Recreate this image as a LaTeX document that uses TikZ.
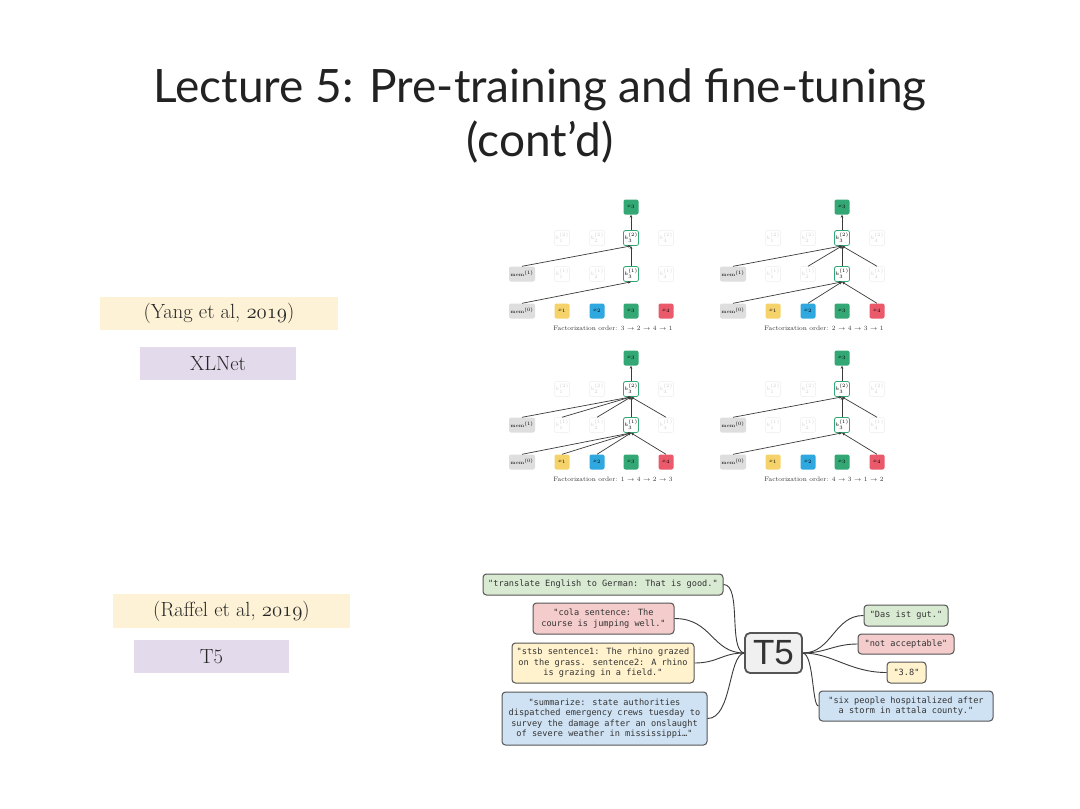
\documentclass[tikz,border=0pt]{standalone}
\usepackage{fontspec}
\newfontfamily\titlefont{Lato}
\newfontfamily\monofont{DejaVu Sans Mono}
\newfontfamily\tfivefont{Liberation Sans}
\usetikzlibrary{arrows.meta}
\definecolor{xyel}{HTML}{F6D36A}
\definecolor{xblu}{HTML}{2FA8DF}
\definecolor{xgrn}{HTML}{33A874}
\definecolor{xred}{HTML}{EA5A6A}
\definecolor{memg}{HTML}{DEDEDE}
\definecolor{lineg}{HTML}{3A3A3A}
\definecolor{labyel}{HTML}{FDF2D6}
\definecolor{lablav}{HTML}{E3DAEC}
\definecolor{tgreen}{HTML}{D9EAD3}
\definecolor{tred}{HTML}{F4CCCC}
\definecolor{tyel}{HTML}{FFF2CC}
\definecolor{tblue}{HTML}{CFE2F3}
\definecolor{tgray}{HTML}{F0F0F0}
\definecolor{boxg}{HTML}{555555}
\definecolor{textg}{HTML}{333333}
\definecolor{titleg}{HTML}{222222}
\newcommand{\osn}[1]{{\usefont{OML}{cmm}{m}{it}#1}}
\tikzset{
  tok/.style={minimum width=15pt, minimum height=15pt, inner sep=0pt, rounded corners=2pt, font=\fontsize{5}{6}\selectfont},
  memb/.style={tok, minimum width=26pt, fill=memg},
  hid/.style={tok, draw=xgrn, fill=white, line width=0.8pt},
  faint/.style={tok, draw=black!7, text=black!18, line width=0.5pt},
  conn/.style={draw=lineg, line width=0.7pt, -{Stealth[length=3pt,width=2.6pt]}},
  captxt/.style={font=\fontsize{6.5}{7}\selectfont, text=textg},
  tbox/.style={draw=boxg, line width=1pt, rounded corners=3.5pt, align=center, text=textg, inner sep=0pt, font=\fontsize{8.6}{10.4}\selectfont\monofont},
  tlink/.style={draw=lineg, line width=0.9pt},
  lab/.style={inner sep=0pt, text=black!85, font=\fontsize{20.5}{24}\selectfont},
}
\newcommand{\xlpanel}[5]{%
\begin{scope}[shift={(#1,#2)}]
\node[memb] (#3m0) at (522,311) {mem$^{(0)}$};
\node[memb] (#3m1) at (522,274) {mem$^{(#4)}$};
\node[tok,fill=xyel] (#3x1) at (562,311) {$x_1$};
\node[tok,fill=xblu] (#3x2) at (597,311) {$x_2$};
\node[tok,fill=xgrn] (#3x3) at (631,311) {$x_3$};
\node[tok,fill=xred] (#3x4) at (666,311) {$x_4$};
\node[faint] (#3a1) at (562,274) {$h_1^{(1)}$};
\node[faint] (#3a2) at (597,274) {$h_2^{(1)}$};
\node[hid]   (#3a3) at (631,274) {$h_3^{(1)}$};
\node[faint] (#3a4) at (666,274) {$h_4^{(1)}$};
\node[faint] (#3b1) at (562,238) {$h_1^{(2)}$};
\node[faint] (#3b2) at (597,238) {$h_2^{(2)}$};
\node[hid]   (#3b3) at (631,238) {$h_3^{(2)}$};
\node[faint] (#3b4) at (666,238) {$h_4^{(2)}$};
\node[tok,fill=xgrn] (#3t) at (631,207) {$x_3$};
\node[captxt] (#3c) at (613,328) {Factorization order: #5};
\draw[conn] (#3a3) -- (#3b3);
\draw[conn] (#3b3) -- (#3t);
\draw[conn] (#3m1.north) -- (#3b3.south);
\draw[conn] (#3m0.north) -- (#3a3.south);
\end{scope}}
\begin{document}
\begin{tikzpicture}[x=1pt,y=-1pt]
\useasboundingbox[fill=white] (0,0) rectangle (1080,809);
% title
\node[anchor=base, text=titleg, font=\titlefont\fontsize{46}{52}\selectfont, inner sep=0pt] (t1) at (540,102) {Lecture 5: Pre-training and fine-tuning};
\node[anchor=base, text=titleg, font=\titlefont\fontsize{46}{52}\selectfont, inner sep=0pt] (t2) at (540,156) {(cont’d)};
% left labels
\node[lab, fill=labyel, minimum width=238pt, minimum height=33pt] (yang) at (219,313.5) {(Yang et al, \osn{2019})};
\node[lab, fill=lablav, minimum width=156pt, minimum height=33pt] (xlnet) at (218,363.5) {XLNet};
\node[lab, fill=labyel, minimum width=237pt, minimum height=34pt] (raffel) at (231.5,611) {(Raffel et al, \osn{2019})};
\node[lab, fill=lablav, minimum width=155pt, minimum height=33pt] (tfl) at (211.5,656.5) {T5};
% XLNet panels
\xlpanel{0}{0}{pa}{1}{3 $\rightarrow$ 2 $\rightarrow$ 4 $\rightarrow$ 1}
\xlpanel{211}{0}{pb}{1}{2 $\rightarrow$ 4 $\rightarrow$ 3 $\rightarrow$ 1}
\xlpanel{0}{151}{pc}{1}{1 $\rightarrow$ 4 $\rightarrow$ 2 $\rightarrow$ 3}
\xlpanel{211}{151}{pd}{0}{4 $\rightarrow$ 3 $\rightarrow$ 1 $\rightarrow$ 2}
% panel b extra
\draw[conn] (pba2.north) -- (pbb3.south);
\draw[conn] (pba4.north) -- (pbb3.south);
\draw[conn] (pbx2.north) -- (pba3.south);
\draw[conn] (pbx4.north) -- (pba3.south);
% panel c extra
\draw[conn] (pca1.north) -- (pcb3.south);
\draw[conn] (pca2.north) -- (pcb3.south);
\draw[conn] (pca4.north) -- (pcb3.south);
\draw[conn] (pcx1.north) -- (pca3.south);
\draw[conn] (pcx2.north) -- (pca3.south);
\draw[conn] (pcx4.north) -- (pca3.south);
% panel d extra
\draw[conn] (pda4.north) -- (pdb3.south);
\draw[conn] (pdx4.north) -- (pda3.south);
% T5 diagram
\node[tbox, fill=tgreen, minimum width=240pt, minimum height=21pt] (in1) at (603,584.5) {"translate English to German: That is good."};
\node[tbox, fill=tred, minimum width=141pt, minimum height=31pt] (in2) at (603.5,618.5) {"cola sentence: The\\course is jumping well."};
\node[tbox, fill=tyel, minimum width=182pt, minimum height=40pt] (in3) at (603,663) {"stsb sentence1: The rhino grazed\\on the grass. sentence2: A rhino\\is grazing in a field."};
\node[tbox, fill=tblue, minimum width=205pt, minimum height=53pt] (in4) at (604.5,718.5) {"summarize: state authorities\\dispatched emergency crews tuesday to\\survey the damage after an onslaught\\of severe weather in mississippi…"};
\node[draw=boxg, line width=1.8pt, fill=tgray, rounded corners=5pt, minimum width=57pt, minimum height=40pt, inner sep=0pt, text=textg, font=\tfivefont\fontsize{35}{36}\selectfont] (t5) at (773.5,653) {T5};
\node[tbox, fill=tgreen, minimum width=84pt, minimum height=21pt] (out1) at (906,615.5) {"Das ist gut."};
\node[tbox, fill=tred, minimum width=96pt, minimum height=20pt] (out2) at (906,644) {"not acceptable"};
\node[tbox, fill=tyel, minimum width=39pt, minimum height=21pt] (out3) at (906.5,672.5) {"3.8"};
\node[tbox, fill=tblue, minimum width=174pt, minimum height=30pt] (out4) at (906,706) {"six people hospitalized after\\a storm in attala county."};
\draw[tlink] (in1.east) .. controls (742,584.5) and (728,650) .. (t5.west);
\draw[tlink] (in2.east) .. controls (712,618.5) and (712,653) .. (t5.west);
\draw[tlink] (in3.east) .. controls (718,663) and (722,653) .. (t5.west);
\draw[tlink] (in4.east) .. controls (732,718.5) and (728,656) .. (t5.west);
\draw[tlink] (t5.east) .. controls (832,653) and (834,615.5) .. (out1.west);
\draw[tlink] (t5.east) .. controls (826,653) and (834,644) .. (out2.west);
\draw[tlink] (t5.east) .. controls (832,653) and (850,672.5) .. (out3.west);
\draw[tlink] (t5.east) .. controls (814,655) and (812,706) .. (out4.west);
\end{tikzpicture}
\end{document}
